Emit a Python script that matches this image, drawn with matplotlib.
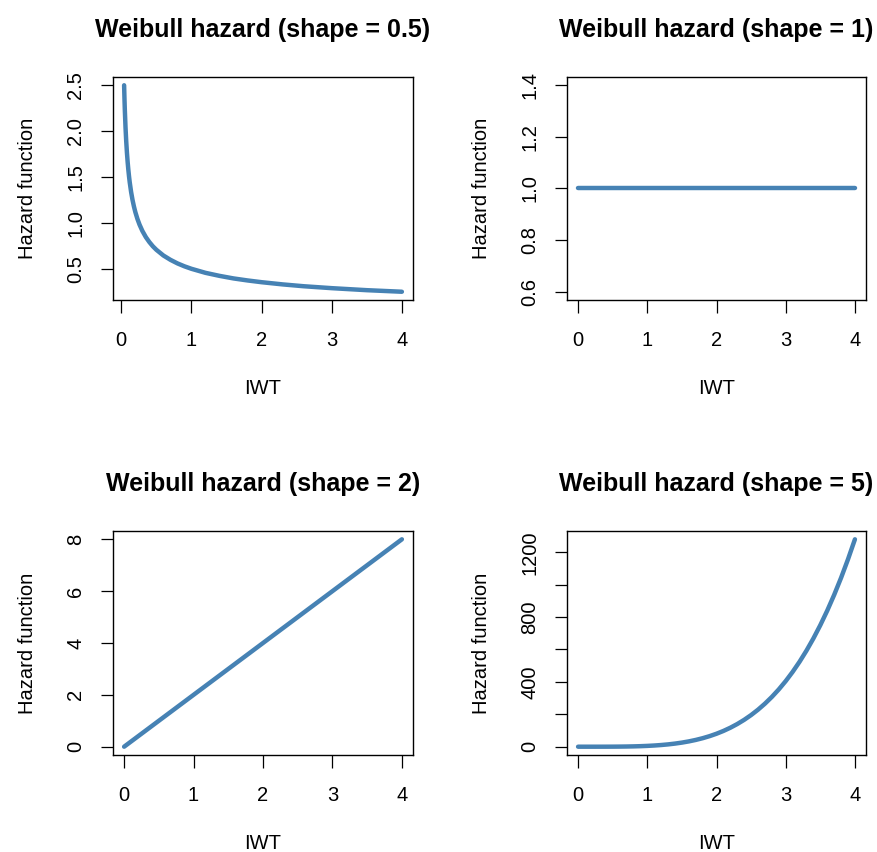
import matplotlib
matplotlib.use("Agg")
import matplotlib.pyplot as plt

plt.rcParams['font.family'] = ['Liberation Sans', 'DejaVu Sans']

W, H = 877, 852
DPI = 100

titles = ["Weibull hazard (shape = 0.5)", "Weibull hazard (shape = 1)",
          "Weibull hazard (shape = 2)", "Weibull hazard (shape = 5)"]
xlabel = "IWT"
ylabel = "Hazard function"
line_color = "#4682B4"

# shape = 0.5
x_s05 = [0.04, 0.045, 0.05, 0.06, 0.07, 0.08, 0.09, 0.10, 0.11, 0.12, 0.14, 0.16,
         0.18, 0.20, 0.23, 0.26, 0.30, 0.35, 0.40, 0.45, 0.50, 0.60, 0.70, 0.80,
         0.90, 1.00, 1.20, 1.40, 1.60, 1.80, 2.00, 2.30, 2.60, 3.00, 3.50, 4.00]
h_s05 = [2.500, 2.357, 2.236, 2.041, 1.890, 1.768, 1.667, 1.581, 1.508, 1.443,
         1.336, 1.250, 1.179, 1.118, 1.043, 0.981, 0.913, 0.845, 0.791, 0.745,
         0.707, 0.645, 0.598, 0.559, 0.527, 0.500, 0.456, 0.423, 0.395, 0.373,
         0.354, 0.330, 0.310, 0.289, 0.267, 0.250]
# shape = 1
x_s1 = [0.0, 1.0, 2.0, 3.0, 4.0]
h_s1 = [1.0, 1.0, 1.0, 1.0, 1.0]
# shape = 2
x_s2 = [0.0, 1.0, 2.0, 3.0, 4.0]
h_s2 = [0.0, 2.0, 4.0, 6.0, 8.0]
# shape = 5
x_s5 = [0.0, 0.1, 0.2, 0.3, 0.4, 0.5, 0.6, 0.7, 0.8, 0.9, 1.0, 1.1, 1.2, 1.3,
        1.4, 1.5, 1.6, 1.7, 1.8, 1.9, 2.0, 2.1, 2.2, 2.3, 2.4, 2.5, 2.6, 2.7,
        2.8, 2.9, 3.0, 3.1, 3.2, 3.3, 3.4, 3.5, 3.6, 3.7, 3.8, 3.9, 4.0]
h_s5 = [0.0, 0.0005, 0.008, 0.04, 0.128, 0.31, 0.65, 1.2, 2.05, 3.28, 5.0, 7.32,
        10.37, 14.28, 19.21, 25.31, 32.77, 41.76, 52.49, 65.16, 80.0, 97.24,
        117.13, 139.92, 165.89, 195.31, 228.49, 265.72, 307.33, 353.64, 405.0,
        461.76, 524.29, 592.96, 668.18, 750.31, 839.81, 937.04, 1042.44, 1156.7,
        1280.0]

x_ticks = [0, 1, 2, 3, 4]
y_ticks = [
    [0.5, 1.0, 1.5, 2.0, 2.5],
    [0.6, 0.8, 1.0, 1.2, 1.4],
    [0, 2, 4, 6, 8],
    [0, 200, 400, 600, 800, 1000, 1200],
]
y_ticklabels = [
    ["0.5", "1.0", "1.5", "2.0", "2.5"],
    ["0.6", "0.8", "1.0", "1.2", "1.4"],
    ["0", "2", "4", "6", "8"],
    ["0", "", "400", "", "800", "", "1200"],
]
series = [(x_s05, h_s05), (x_s1, h_s1), (x_s2, h_s2), (x_s5, h_s5)]

# panel boxes in pixels: left, top, right, bottom
boxes = [(113, 77, 413, 300), (567, 77, 866, 300),
         (113, 531, 413, 755), (567, 531, 866, 755)]

fig = plt.figure(figsize=(W / DPI, H / DPI), dpi=DPI)

def rlim(vals):
    lo, hi = min(vals), max(vals)
    if hi == lo:
        lo, hi = lo - 0.4 * abs(lo), hi + 0.4 * abs(hi)
    pad = 0.04 * (hi - lo)
    return lo - pad, hi + pad

for i, ((xs, ys), (l, t, r, b)) in enumerate(zip(series, boxes)):
    ax = fig.add_axes([l / W, 1 - b / H, (r - l) / W, (b - t) / H])
    ax.plot(xs, ys, color=line_color, lw=3.2, solid_capstyle='round',
            solid_joinstyle='round')
    ax.set_xlim(*rlim(xs))
    ax.set_ylim(*rlim(ys))
    ax.set_xticks(x_ticks)
    ax.set_xticklabels([str(v) for v in x_ticks])
    ax.set_yticks(y_ticks[i])
    ax.set_yticklabels(y_ticklabels[i], rotation=90, va='center')
    ax.tick_params(axis='both', length=9, width=0.9, labelsize=14.5, color='black',
                   direction='out')
    ax.tick_params(axis='x', pad=13)
    ax.tick_params(axis='y', pad=11)
    for s in ax.spines.values():
        s.set_linewidth(1.0)
    ax.set_xlabel(xlabel, fontsize=14.5, labelpad=21.5)
    ax.set_ylabel(ylabel, fontsize=14.5, labelpad=21)
    ax.set_title(titles[i], fontsize=18, fontweight='bold', pad=29)

fig.savefig("out.png", dpi=DPI, facecolor='white')
